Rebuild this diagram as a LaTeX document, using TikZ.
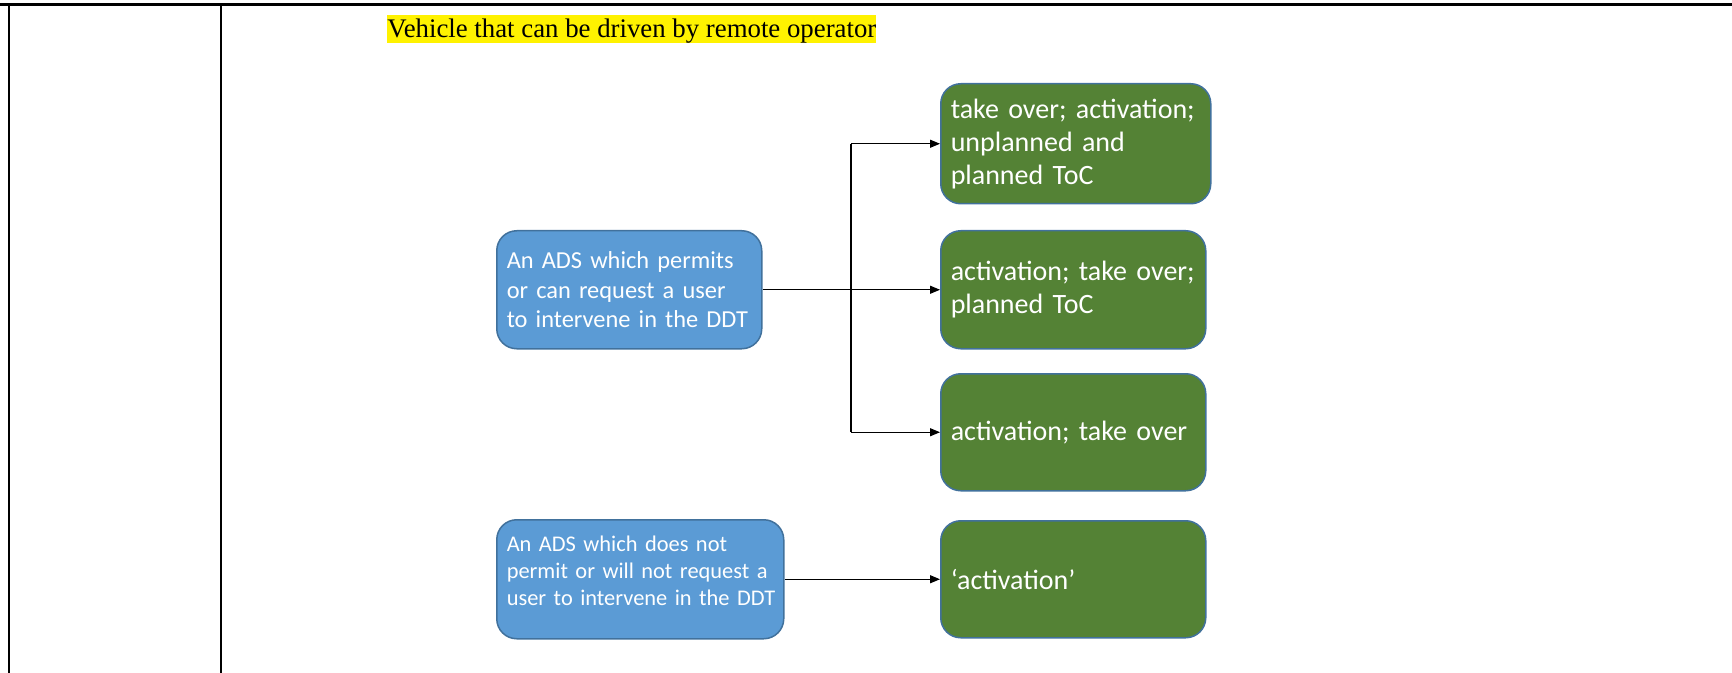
\documentclass[tikz,border=0pt]{standalone}
\usepackage{fontspec}
\setmainfont{Liberation Serif}
\newfontfamily\carlito{Carlito}
\usetikzlibrary{arrows.meta}

\definecolor{adsblue}{HTML}{5B9BD5}
\definecolor{tocgreen}{HTML}{548235}
\definecolor{boxline}{HTML}{41719C}

\tikzset{
  box/.style={draw=boxline, line width=0.75pt, rounded corners=10pt, anchor=north west,
    align=left, inner xsep=5pt, text=white},
  bluebox/.style={box, fill=adsblue},
  greenbox/.style={box, fill=tocgreen, font=\carlito\fontsize{14pt}{16.6pt}\selectfont},
  arr/.style={-{Triangle[length=5pt,width=4pt]}, line width=0.6pt},
}

\begin{document}
\begin{tikzpicture}[x=0.5pt,y=-0.5pt]
\useasboundingbox (0,0) rectangle (1732,673);
% table frame
\draw [line width=1.3pt] (0,4.5) -- (1732,4.5);
\draw [line width=1.1pt] (9,4) -- (9,673);
\draw [line width=1.1pt] (221,4) -- (221,673);

\node [anchor=north west, fill=yellow, inner sep=0pt, text height=11.2pt, text depth=2.8pt,
  font=\fontsize{13.4pt}{15pt}\selectfont] (title) at (387,15) {Vehicle that can be driven by remote operator};

% ADS boxes
\node [bluebox, minimum width=132.5pt, text width=122.5pt, minimum height=59pt,
  font=\carlito\fontsize{12.2pt}{14.6pt}\selectfont] (permits) at (496,230)
  {An ADS which permits\\or can request a user\\to intervene in the DDT};
\node [bluebox, minimum width=143.5pt, text width=133.5pt, minimum height=59.5pt,
  font=\carlito\fontsize{11.2pt}{13.5pt}\selectfont] (notpermit) at (496,519)
  {\mbox{An ADS which does not}\\\mbox{permit or will not request a}\\\mbox{user to intervene in the DDT}\\[-5pt]\mbox{}};

% terms
\node [greenbox, minimum width=135pt, text width=125pt, minimum height=60pt] (unplanned) at (940,83)
  {take over; activation;\\unplanned and\\planned ToC};
\node [greenbox, minimum width=132.5pt, text width=122.5pt, minimum height=59pt] (planned) at (940,230)
  {activation; take over;\\planned ToC};
\node [greenbox, minimum width=132.5pt, text width=122.5pt, minimum height=58.5pt] (takeover) at (940,373)
  {activation; take over};
\node [greenbox, minimum width=132.5pt, text width=122.5pt, minimum height=58.5pt] (activation) at (940,520)
  {‘activation’};

% connectors
\coordinate (split) at (851,289);
\draw [arr] (permits.east) -- (planned.west);
\draw [line width=0.6pt] (split |- unplanned.west) -- (split |- takeover.west);
\draw [arr] (split |- unplanned.west) -- (unplanned.west);
\draw [arr] (split |- takeover.west) -- (takeover.west);
\draw [arr] (notpermit.east) -- (activation.west);
\end{tikzpicture}
\end{document}
